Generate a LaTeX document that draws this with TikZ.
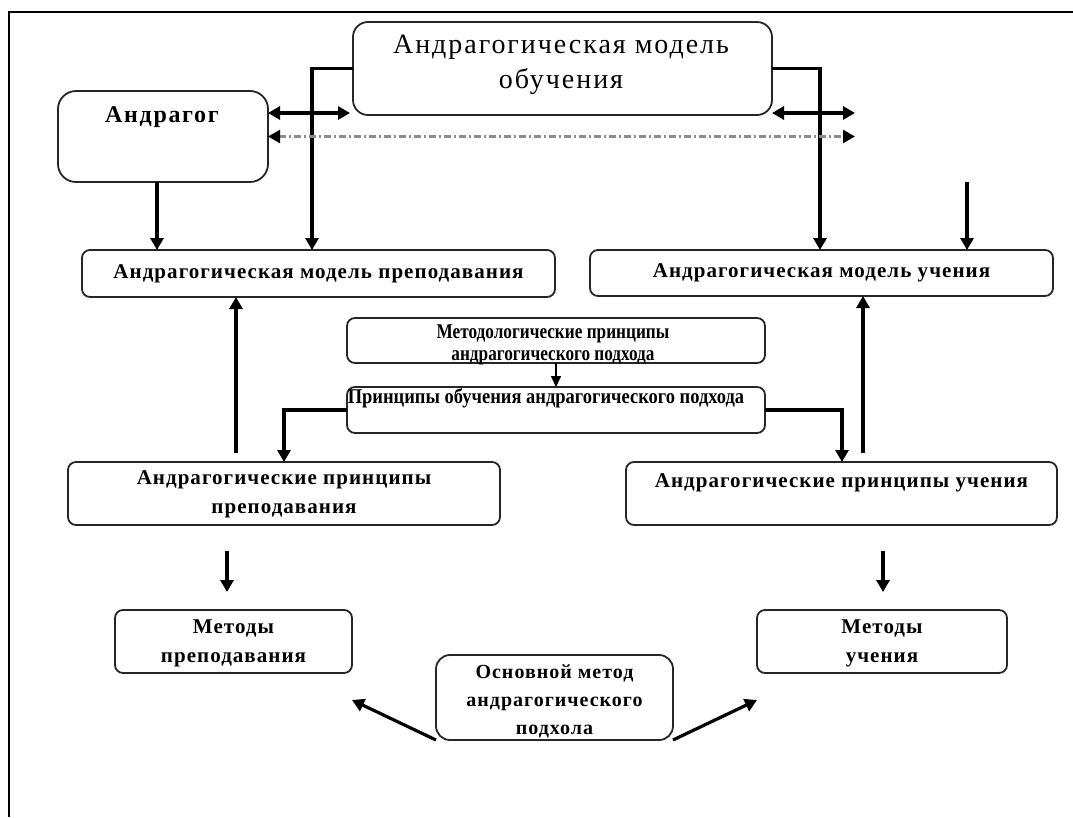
\documentclass[tikz,border=0pt]{standalone}
\usepackage{fontspec}
\setmainfont{Liberation Serif}
\newfontfamily\spr[LetterSpace=7]{Liberation Serif}
\newfontfamily\sbf[LetterSpace=5]{Liberation Serif}
\newfontfamily\cbf[FakeStretch=0.82]{Liberation Serif}
\newfontfamily\cbfw[FakeStretch=0.88]{Liberation Serif}
\usetikzlibrary{arrows.meta,calc}
\tikzset{
  box/.style={draw=black!85, line width=1.8pt, rounded corners=8pt, fill=white, outer sep=0pt, inner sep=0pt},
  txt/.style={align=center, inner sep=0pt},
  bt/.style={txt, font=\sbf\bfseries\fontsize{21}{29}\selectfont},
  ct/.style={txt, font=\cbf\bfseries\fontsize{21}{22}\selectfont},
  conn/.style={line width=3.2pt, -{Triangle[length=12pt,width=13pt]}},
  thin/.style={line width=1.6pt, -{Triangle[length=11pt,width=10pt]}},
  dbl/.style={line width=3.2pt, {Triangle[length=12pt,width=13pt]}-{Triangle[length=12pt,width=13pt]}},
  dd/.style={line width=2.4pt, draw=black!45, dash pattern=on 7pt off 3pt on 2pt off 3pt,
    {Triangle[length=12pt,width=13pt,color=black]}-{Triangle[length=12pt,width=13pt,color=black]}}
}
\begin{document}
\begin{tikzpicture}[x=1pt,y=-1pt]
\useasboundingbox (0,0) rectangle (1073,817);
% frame
\draw[line width=2.4pt] (1073,12) -- (9,12) -- (9,817);

% boxes
\node[box, rounded corners=15pt, minimum width=419pt, minimum height=93pt] (top) at (562.5,68.5) {};
\node[txt, font=\spr\fontsize{28}{35}\selectfont] (topT) at (561,65) {Андрагогическая модель\\обучения};

\node[box, rounded corners=18pt, minimum width=210pt, minimum height=91pt] (andragog) at (163,136.5) {};
\node[txt, font=\spr\bfseries\fontsize{24}{28}\selectfont] (andragogT) at (162,117) {Андрагог};

\node[box, minimum width=473pt, minimum height=47pt] (teachModel) at (318.5,273.5) {};
\node[bt] (teachModelT) at (318.5,273.5) {Андрагогическая модель преподавания};

\node[box, minimum width=463pt, minimum height=46pt] (learnModel) at (821.5,273) {};
\node[bt] (learnModelT) at (821.5,273) {Андрагогическая модель учения};

\node[box, minimum width=418pt, minimum height=45pt] (method) at (556,340.5) {};
\node[ct] (methodT) at (553,345) {Методологические принципы\\андрагогического подхода};

\node[box, minimum width=418pt, minimum height=46pt] (princ) at (556,410) {};
\node[ct, font=\cbfw\bfseries\fontsize{21}{22}\selectfont] (princT) at (546,398) {Принципы обучения андрагогического подхода};

\node[box, minimum width=432pt, minimum height=63pt] (teachPr) at (284,493.5) {};
\node[bt] (teachPrT) at (284,494) {Андрагогические  принципы\\преподавания};

\node[box, minimum width=431pt, minimum height=63pt] (learnPr) at (841.5,493.5) {};
\node[bt] (learnPrT) at (841.5,483) {Андрагогические  принципы учения};

\node[box, minimum width=237pt, minimum height=63pt] (teachMeth) at (233.5,641.5) {};
\node[bt] (teachMethT) at (233.5,643) {Методы\\преподавания};

\node[box, minimum width=250pt, minimum height=63pt] (learnMeth) at (882,641.5) {};
\node[bt] (learnMethT) at (882,643) {Методы\\учения};

\node[box, rounded corners=14pt, minimum width=237pt, minimum height=85pt] (basic) at (554.5,697.5) {};
\node[bt, font=\sbf\bfseries\fontsize{20}{28}\selectfont] (basicT) at (554.5,701) {Основной метод\\андрагогического\\подхола};

% coordinates
\coordinate (xL) at (312,0);
\coordinate (xR) at (820,0);
\coordinate (xA) at (157,0);
\coordinate (xP) at (284,0);
\coordinate (xQ) at (842,0);
\coordinate (dlR) at (350,113);
\coordinate (drR) at (855,113);
\coordinate (ddR) at (855,136.5);
\coordinate (fR) at (967,182);
\coordinate (u1) at (236,453);
\coordinate (u2) at (863,453);
\coordinate (d1) at (227,551);
\coordinate (d1e) at (227,592);
\coordinate (d2) at (883,551);
\coordinate (d2e) at (883,592);
\coordinate (a1e) at (352,700);
\coordinate (a2e) at (757,700);

% connectors
\draw[conn] (top.west) -| (xL |- teachModel.north);
\draw[conn] (top.east) -| (xR |- learnModel.north);
\draw[dbl] ([yshift=23.5pt]andragog.east) -- (dlR);
\draw[dbl] ([yshift=2pt]top.south east) -- (drR);
\draw[dd] (andragog.east) -- (ddR);
\draw[conn] (andragog.south -| xA) -- (xA |- teachModel.north);
\draw[conn] (fR) -- (fR |- learnModel.north);
\draw[thin] (method.south) -- (princ.north);
\draw[conn] (princ.west) -| (xP |- teachPr.north);
\draw[conn] (princ.east) -| (xQ |- learnPr.north);
\draw[conn] (u1) -- (u1 |- teachModel.south);
\draw[conn] (u2) -- (u2 |- learnModel.south);
\draw[conn] (d1) -- (d1e);
\draw[conn] (d2) -- (d2e);
\draw[conn] (basic.south west) -- (a1e);
\draw[conn] (basic.south east) -- (a2e);
\end{tikzpicture}
\end{document}
